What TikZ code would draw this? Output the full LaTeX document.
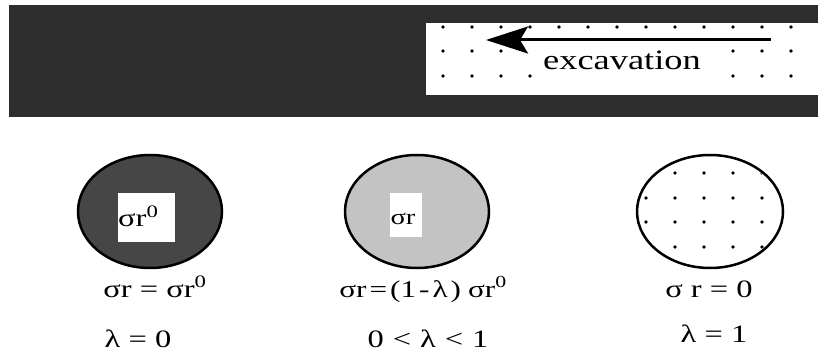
\documentclass[tikz,border=0pt]{standalone}
\usepackage{fontspec}
\setmainfont{Liberation Serif}[FakeStretch=1.3]
\usetikzlibrary{arrows.meta,positioning}
\definecolor{darkzone}{RGB}{45,45,45}
\definecolor{midzone}{RGB}{70,70,70}
\definecolor{lightzone}{RGB}{195,195,195}
\newcommand{\gap}[1]{\hspace{#1pt}}

\begin{document}
\begin{tikzpicture}[
    x=1pt, y=1pt,
    lbl/.style={anchor=base, inner sep=0pt, font=\fontsize{25}{30}\selectfont},
    core/.style={fill=white, inner sep=0pt},
    rim/.style={line width=2.5pt},
    dot/.style={fill=black}
]
    \useasboundingbox (0,0) rectangle (818,353);

    % Rock mass band
    \fill[darkzone] (9,236) rectangle (818,348);
    \fill[white] (426,258) rectangle (818,330);

    % Dots of the excavated part
    \foreach \k in {0,...,12}
        \fill[dot] ({443+29*\k},326) circle (1.8);
    \foreach \k in {0,1,2,10,11,12}
        \fill[dot] ({443+29*\k},302) circle (1.8);
    \foreach \k in {0,1,2,3,10,11,12}
        \fill[dot] ({443+29*\k},277) circle (1.8);

    % Excavation arrow
    \coordinate (tail) at (771,313);
    \coordinate (tip) at (486,313);
    \draw[line width=3pt, -{Stealth[length=42pt, width=27pt, inset=8pt]}] (tail) -- (tip);
    \node[anchor=base, inner sep=0pt, font=\fontsize{28}{32}\selectfont] (exc) at (622,283) {excavation};

    % Zone 1: unreleased
    \filldraw[fill=midzone, rim] (150,141.5) ellipse (72 and 56.5);
    \node[core, minimum width=57, minimum height=49] (core0) at (146.5,135.5) {};
    \node[lbl, anchor=base west] (s0) at (118,126) {σr\textsuperscript{0}};

    % Zone 2: partly released
    \filldraw[fill=lightzone, rim] (417,141.5) ellipse (72 and 56.5);
    \node[core, minimum width=32, minimum height=44] (core1) at (406,138) {};
    \node[lbl, font=\fontsize{22}{26}\selectfont] (s1) at (403,128) {σr};

    % Zone 3: fully released
    \begin{scope}
        \clip (710,141.5) ellipse (71 and 55);
        \foreach \k in {7,...,11}
            \foreach \y in {180,155,131,106}
                \fill[dot] ({443+29*\k},\y) circle (1.8);
    \end{scope}
    \draw[rim] (710,141.5) ellipse (73 and 56.5);

    % Stress and lambda labels
    \node[lbl] (eq0) at (155,56) {σr = σr\textsuperscript{0}};
    \node[lbl] (lam0) at (138,6) {λ = 0};
    \node[lbl, font=\fontsize{24}{28}\selectfont] (eq1) at (423,56)
        {σr\gap{3}=\gap{3}(1\gap{3}-\gap{3}λ\gap{3})\gap{7}σr\textsuperscript{0}};
    \node[lbl] (lam1) at (428,6) {0\gap{9}<\gap{9}λ\gap{9}<\gap{9}1};
    \node[lbl] (eq2) at (709,56) {σ r = 0};
    \node[lbl] (lam2) at (714,11) {λ = 1};
\end{tikzpicture}
\end{document}
